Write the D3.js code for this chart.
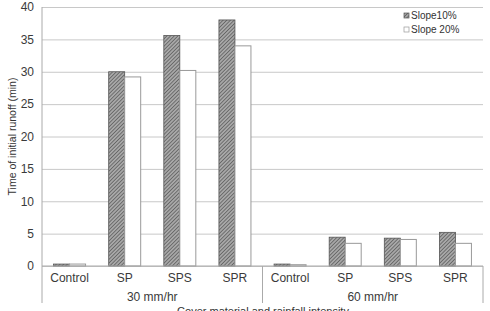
<!DOCTYPE html>
<html>
<head>
    <meta charset="utf-8" />
    <script src="https://cdn.jsdelivr.net/npm/d3@7"></script>
    <style>
        html, body { margin: 0; padding: 0; background: #fff; }
        svg { display: block; font-family: "Liberation Sans", Arial, sans-serif; }
    </style>
</head>
<body>
    <div id="chart"></div>
    <script>
        var groups = ['30 mm/hr', '60 mm/hr'];
        var materials = ['Control', 'SP', 'SPS', 'SPR'];
        var slope10 = [0.3, 30, 35.6, 38, 0.3, 4.45, 4.3, 5.2];
        var slope20 = [0.3, 29.2, 30.2, 34, 0.2, 3.5, 4.1, 3.5];
        var seriesNames = ['Slope10%', 'Slope 20%'];
        var yTicks = [0, 5, 10, 15, 20, 25, 30, 35, 40];

        var W = 490, H = 311;
        var plotL = 42, plotR = 483, plotT = 7, plotB = 266;

        var svg = d3.select('#chart').append('svg')
            .attr('width', W).attr('height', H);

        var defs = svg.append('defs');
        var pat = defs.append('pattern')
            .attr('id', 'hatch')
            .attr('patternUnits', 'userSpaceOnUse')
            .attr('width', 2.6).attr('height', 2.6)
            .attr('patternTransform', 'rotate(45)');
        pat.append('rect').attr('width', 2.6).attr('height', 2.6).attr('fill', '#a8a8a8');
        pat.append('line').attr('x1', 0).attr('y1', 0).attr('x2', 0).attr('y2', 2.6)
            .attr('stroke', '#404040').attr('stroke-width', 1.1);

        var cats = d3.range(8);
        var x = d3.scaleBand().domain(cats).range([plotL, plotR]);
        var y = d3.scaleLinear().domain([0, 40]).range([plotB, plotT]);

        // gridlines + y labels
        var yAxis = svg.append('g')
            .attr('transform', 'translate(' + plotL + ',0)')
            .call(d3.axisLeft(y).tickValues(yTicks).tickSize(-(plotR - plotL)).tickPadding(8));
        yAxis.select('.domain').remove();
        yAxis.selectAll('line').attr('stroke', '#c8c8c8').attr('stroke-width', 1);
        yAxis.selectAll('text').attr('fill', '#3a3a3a').style('font-size', '12px')
            .style('font-family', '"Liberation Sans", Arial, sans-serif');

        // legend
        var lg = svg.append('g').attr('transform', 'translate(404,9)');
        lg.append('rect').attr('x', -3).attr('y', 0).attr('width', 74).attr('height', 27).attr('fill', '#fff');
        seriesNames.forEach(function (name, i) {
            lg.append('rect').attr('x', 0).attr('y', 4 + i * 14).attr('width', 5).attr('height', 5)
                .attr('fill', i === 0 ? 'url(#hatch)' : '#fff')
                .attr('stroke', i === 0 ? '#555' : '#999').attr('stroke-width', 0.7);
            lg.append('text').attr('x', 7).attr('y', 10 + i * 14).text(name)
                .attr('fill', '#333').style('font-size', '10px');
        });

        // bars
        var bw = 16;
        svg.append('g').selectAll('rect').data(cats).join('rect')
            .attr('x', function (d) { return x(d) + x.bandwidth() / 2 - bw; })
            .attr('y', function (d) { return y(slope10[d]); })
            .attr('width', bw)
            .attr('height', function (d) { return y(0) - y(slope10[d]); })
            .attr('fill', 'url(#hatch)')
            .attr('stroke', '#555').attr('stroke-width', 0.8);
        svg.append('g').selectAll('rect').data(cats).join('rect')
            .attr('x', function (d) { return x(d) + x.bandwidth() / 2; })
            .attr('y', function (d) { return y(slope20[d]); })
            .attr('width', bw)
            .attr('height', function (d) { return y(0) - y(slope20[d]); })
            .attr('fill', '#fff')
            .attr('stroke', '#999').attr('stroke-width', 1);

        // axes lines
        var ax = svg.append('g').attr('stroke', '#aaa').attr('stroke-width', 1);
        ax.append('line').attr('x1', plotL).attr('x2', plotL).attr('y1', plotT).attr('y2', 303);
        ax.append('line').attr('x1', plotL).attr('x2', plotR).attr('y1', plotB).attr('y2', plotB);
        [plotL + x.step() * 4, plotR].forEach(function (px) {
            ax.append('line').attr('x1', px).attr('x2', px).attr('y1', plotB).attr('y2', 303);
        });

        // category labels
        svg.append('g').selectAll('text').data(cats).join('text')
            .attr('x', function (d) { return x(d) + x.bandwidth() / 2; })
            .attr('y', 282)
            .attr('text-anchor', 'middle')
            .attr('fill', '#3a3a3a').style('font-size', '12px')
            .text(function (d) { return materials[d % 4]; });

        svg.append('g').selectAll('text').data(groups).join('text')
            .attr('x', function (d, i) { return (x(i * 4) + x(i * 4 + 3) + x.bandwidth()) / 2; })
            .attr('y', 301)
            .attr('text-anchor', 'middle')
            .attr('fill', '#3a3a3a').style('font-size', '12px')
            .text(function (d) { return d; });

        svg.append('text').attr('x', 263).attr('y', 315)
            .attr('text-anchor', 'middle')
            .attr('fill', '#333').style('font-size', '11px')
            .text('Cover material and rainfall intensity');

        svg.append('text')
            .attr('transform', 'translate(16,' + ((plotT + plotB) / 2) + ') rotate(-90)')
            .attr('text-anchor', 'middle')
            .attr('fill', '#333').style('font-size', '10.5px')
            .text('Time of initial runoff (min)');
    </script>
</body>
</html>
